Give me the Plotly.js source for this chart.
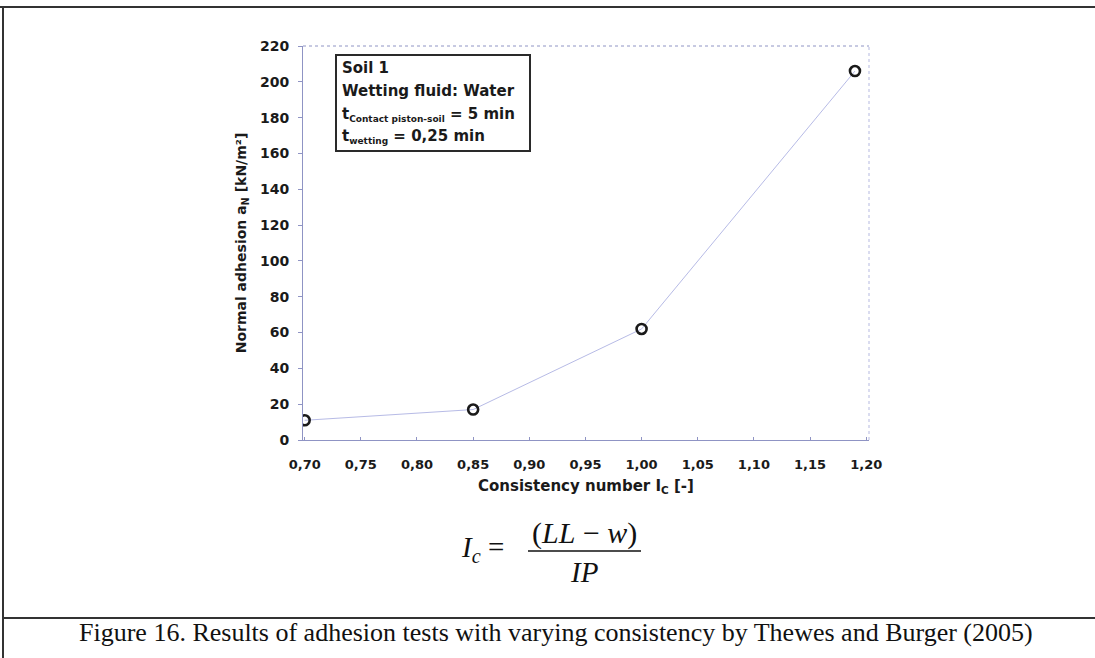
<!DOCTYPE html>
<html>
<head>
<meta charset="utf-8">
<script src="https://cdn.plot.ly/plotly-3.0.1.min.js"></script>
<style>html,body{margin:0;padding:0;background:#fff;}#chart{width:1095px;height:658px;}</style>
</head>
<body>
<div id="chart"></div>
<script>
// Data
var consistency = [0.70, 0.85, 1.00, 1.19];
var adhesion = [11, 17, 62, 206];
var xTickVals = [0.70, 0.75, 0.80, 0.85, 0.90, 0.95, 1.00, 1.05, 1.10, 1.15, 1.20];
var xTickText = ["0,70","0,75","0,80","0,85","0,90","0,95","1,00","1,05","1,10","1,15","1,20"];
var yTickVals = [0,20,40,60,80,100,120,140,160,180,200,220];
var infoLines = ["Soil 1", "Wetting fluid: Water", "t<sub><span style=\"font-size:9px\">Contact piston-soil</span></sub> = 5 min", "t<sub><span style=\"font-size:9px\">wetting</span></sub> = 0,25 min"];
var captionText = "Figure 16. Results of adhesion tests with varying consistency by Thewes and Burger (2005)";

var W = 1095, H = 658;
var L = 303, R = 869, T = 46, B = 440;
function px(x){ return (x - L) / (R - L); }
function py(y){ return (B - y) / (B - T); }

var trace = {
  x: consistency, y: adhesion, type: 'scatter', mode: 'lines+markers',
  line: {color: '#b7bbe6', width: 1},
  marker: {symbol: 'circle-open', size: 10, color: '#1a1a1a', line: {width: 2.6, color: '#1a1a1a'}},
  showlegend: false, hoverinfo: 'x+y'
};

var boldFam = 'DejaVu Sans, Verdana, sans-serif';
var axisFont = {family: boldFam, size: 13, color: '#1a1a1a', weight: 'bold'};
var serif = 'Liberation Serif, Times New Roman, serif';

var annotations = [];
var lineY = [65, 88, 111, 133];
for (var i = 0; i < infoLines.length; i++) {
  annotations.push({xref: 'paper', yref: 'paper', x: px(340), y: py(lineY[i] - 8), xanchor: 'left', yanchor: 'top', align: 'left', showarrow: false,
    text: infoLines[i], font: {family: boldFam, size: 15, color: '#1a1a1a', weight: 'bold'}});
}
annotations.push(
  {xref: 'paper', yref: 'paper', x: px(506), y: py(549), xanchor: 'right', yanchor: 'middle', showarrow: false,
   text: '<i>I<sub>c</sub></i> =', font: {family: serif, size: 29, color: '#111'}},
  {xref: 'paper', yref: 'paper', x: px(584), y: py(533), xanchor: 'center', yanchor: 'middle', showarrow: false,
   text: '(<i>LL</i> − <i>w</i>)', font: {family: serif, size: 30, color: '#111'}},
  {xref: 'paper', yref: 'paper', x: px(584), y: py(572), xanchor: 'center', yanchor: 'middle', showarrow: false,
   text: '<i>IP</i>', font: {family: serif, size: 29, color: '#111'}},
  {xref: 'paper', yref: 'paper', x: px(556), y: py(632), xanchor: 'center', yanchor: 'middle', showarrow: false,
   text: captionText, font: {family: serif, size: 26, color: '#111'}}
);

var layout = {
  width: W, height: H,
  margin: {l: L, r: W - R, t: T, b: H - B, pad: 0},
  paper_bgcolor: '#ffffff', plot_bgcolor: '#ffffff',
  font: {family: boldFam, color: '#1a1a1a'},
  xaxis: {
    range: [0.6985, 1.2025], tickvals: xTickVals, ticktext: xTickText,
    showgrid: false, zeroline: false, showline: true, linecolor: '#8f94c4', linewidth: 1, mirror: false,
    ticks: 'inside', ticklen: 3, tickcolor: '#8f94c4', tickfont: axisFont, ticklabelstandoff: 12,
    title: {text: 'Consistency number I<sub>C</sub> [-]', font: {family: boldFam, size: 15, color: '#1a1a1a', weight: 'bold'}, standoff: 9},
    automargin: false
  },
  yaxis: {
    range: [0, 220], tickvals: yTickVals,
    showgrid: false, zeroline: false, showline: true, linecolor: '#8f94c4', linewidth: 1, mirror: false,
    ticks: 'outside', ticklen: 4, tickcolor: '#8f94c4', tickfont: {family: boldFam, size: 14, color: '#1a1a1a', weight: 'bold'}, ticklabelstandoff: 6,
    title: {text: 'Normal adhesion a<sub>N</sub> [kN/m²]', font: {family: boldFam, size: 14, color: '#1a1a1a', weight: 'bold'}, standoff: 10},
    automargin: false
  },
  shapes: [
    {type: 'line', xref: 'paper', yref: 'paper', x0: 0, x1: 1, y0: 1, y1: 1, line: {color: '#8f94c4', width: 1, dash: 'dot'}},
    {type: 'line', xref: 'paper', yref: 'paper', x0: 1, x1: 1, y0: 0, y1: 1, line: {color: '#b5b9e0', width: 1, dash: 'dot'}},
    {type: 'rect', xref: 'paper', yref: 'paper', x0: px(336), x1: px(530), y0: py(151), y1: py(55),
     line: {color: '#2a2a2a', width: 2}, fillcolor: 'rgba(0,0,0,0)'},
    {type: 'line', xref: 'paper', yref: 'paper', x0: px(0), x1: px(1095), y0: py(7), y1: py(7), line: {color: '#333', width: 2}},
    {type: 'line', xref: 'paper', yref: 'paper', x0: px(3), x1: px(3), y0: py(7), y1: py(658), line: {color: '#333', width: 2}},
    {type: 'line', xref: 'paper', yref: 'paper', x0: px(3), x1: px(1095), y0: py(618), y1: py(618), line: {color: '#333', width: 2}},
    {type: 'line', xref: 'paper', yref: 'paper', x0: px(528), x1: px(641), y0: py(551), y1: py(551), line: {color: '#111', width: 1.5}}
  ],
  annotations: annotations
};

Plotly.newPlot('chart', [trace], layout, {displayModeBar: false, staticPlot: true});
</script>
</body>
</html>
